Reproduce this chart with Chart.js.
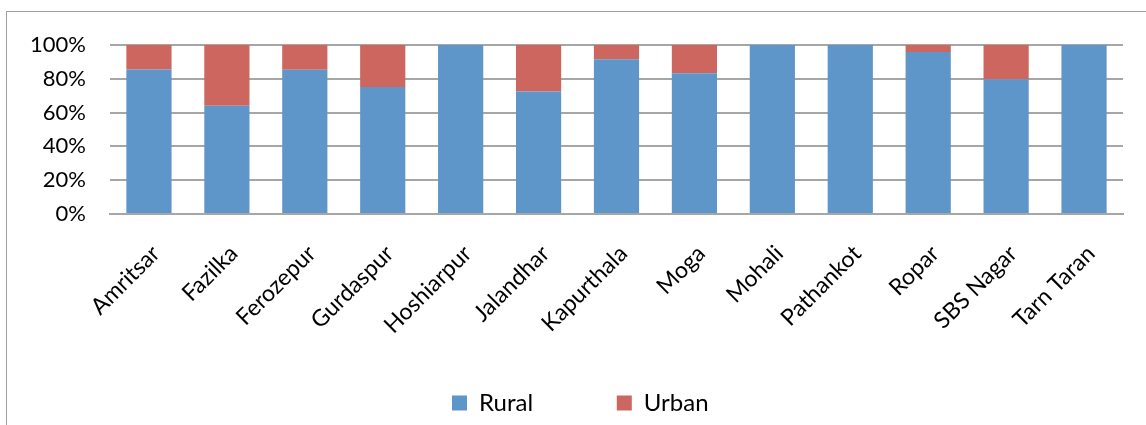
<!doctype html>
<html lang="en">
<head>
    <meta charset="utf-8">
    <title>Rural / Urban share by district</title>
    <script src="https://cdn.jsdelivr.net/npm/chart.js"></script>
    <style>
        body {
            margin: 0;
            background: #fff;
            overflow: hidden;
        }

        .frame {
            position: absolute;
            left: 6px;
            top: 11px;
            width: 1300px;
            height: 600px;
            border: 1px solid #a0a0a0;
        }

        .chart-box {
            position: absolute;
            left: 0;
            top: 0;
            width: 1146px;
            height: 425px;
        }
    </style>
</head>
<body>
    <div class="frame"></div>
    <div class="chart-box">
        <canvas id="shareChart" width="1146" height="425"></canvas>
    </div>
    <script>
        const districts = ['Amritsar', 'Fazilka', 'Ferozepur', 'Gurdaspur', 'Hoshiarpur', 'Jalandhar',
            'Kapurthala', 'Moga', 'Mohali', 'Pathankot', 'Ropar', 'SBS Nagar', 'Tarn Taran'];
        const rural = [85.5, 64, 85.3, 75.1, 100, 72.5, 91.6, 83.3, 100, 100, 95.8, 79.7, 100];
        const urban = [14.5, 36, 14.7, 24.9, 0, 27.5, 8.4, 16.7, 0, 0, 4.2, 20.3, 0];
        const yTicks = [0, 20, 40, 60, 80, 100];

        Chart.defaults.font.family = 'Lato, "Liberation Sans", sans-serif';
        Chart.defaults.color = '#000';

        // nudge the legend so the first box lands where the original has it
        const legendShift = {
            id: 'legendShift',
            afterLayout(chart) {
                const lg = chart.legend;
                if (!lg || !lg.lineWidths) return;
                const pad = lg.options.labels.padding;
                const start = (lg.left + pad + lg.right - lg.lineWidths[0]) / 2;
                const shift = 452 - start;
                lg.left += shift;
                lg.right += shift;
            }
        };

        new Chart(document.getElementById('shareChart'), {
            type: 'bar',
            data: {
                labels: districts,
                datasets: [{
                    label: 'Rural',
                    data: rural,
                    backgroundColor: '#5f96c9',
                    barPercentage: 0.58,
                    categoryPercentage: 1
                }, {
                    label: 'Urban',
                    data: urban,
                    backgroundColor: '#cd665f',
                    barPercentage: 0.58,
                    categoryPercentage: 1
                }]
            },
            plugins: [legendShift],
            options: {
                responsive: false,
                animation: false,
                layout: {
                    padding: { top: 45, right: 23, bottom: 0, left: 0 }
                },
                plugins: {
                    tooltip: { enabled: false },
                    legend: {
                        position: 'bottom',
                        labels: {
                            boxWidth: 15,
                            boxHeight: 15,
                            padding: 10,
                            font: { size: 24 },
                            generateLabels: (chart) => {
                                // extra spaces to spread the two entries like the original
                                const items = Chart.defaults.plugins.legend.labels.generateLabels(chart);
                                items[0].text = 'Rural            ';
                                return items;
                            }
                        }
                    }
                },
                scales: {
                    x: {
                        stacked: true,
                        grid: { display: false, drawTicks: false },
                        border: { color: '#a6a6a6', width: 2 },
                        ticks: {
                            maxRotation: 45,
                            minRotation: 45,
                            padding: 26,
                            labelOffset: 7,
                            font: { size: 23 }
                        },
                        afterFit: (scale) => { scale.height = 167; }
                    },
                    y: {
                        stacked: true,
                        min: 0,
                        max: 100,
                        afterBuildTicks: (scale) => {
                            scale.ticks = yTicks.map((v) => ({ value: v }));
                        },
                        grid: { color: '#a6a6a6', lineWidth: 2, drawTicks: false },
                        border: { display: false },
                        ticks: {
                            padding: 24,
                            font: { size: 22 },
                            callback: (v) => v + '%'
                        },
                        afterFit: (scale) => { scale.width = 110; }
                    }
                }
            }
        });
    </script>
</body>
</html>
